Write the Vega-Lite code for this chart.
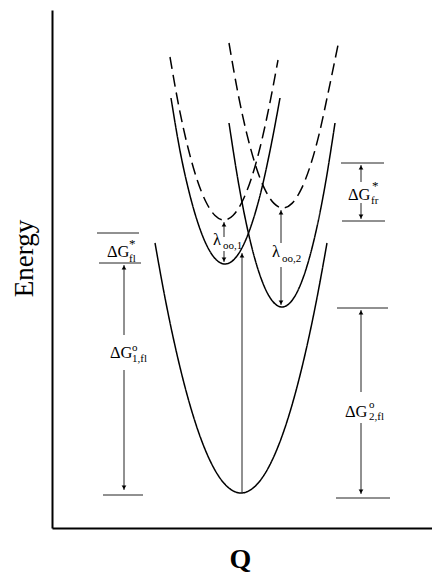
{
  "$schema": "https://vega.github.io/schema/vega-lite/v6.json",
  "width": 380,
  "height": 518,
  "autosize": {"type": "none"},
  "padding": {"left": 52, "top": 10, "right": 0, "bottom": 47},
  "background": "white",
  "config": {"view": {"stroke": null}},
  "datasets": {
    "curves": [
      {"curve": "ground", "style": "solid", "x": 103, "y": 285},
      {"curve": "ground", "style": "solid", "x": 114, "y": 225.1},
      {"curve": "ground", "style": "solid", "x": 129, "y": 156.7},
      {"curve": "ground", "style": "solid", "x": 144, "y": 103.4},
      {"curve": "ground", "style": "solid", "x": 159, "y": 65.4},
      {"curve": "ground", "style": "solid", "x": 174, "y": 42.6},
      {"curve": "ground", "style": "solid", "x": 189, "y": 35},
      {"curve": "ground", "style": "solid", "x": 204, "y": 42.6},
      {"curve": "ground", "style": "solid", "x": 219, "y": 65.4},
      {"curve": "ground", "style": "solid", "x": 234, "y": 103.4},
      {"curve": "ground", "style": "solid", "x": 249, "y": 156.7},
      {"curve": "ground", "style": "solid", "x": 264, "y": 225.1},
      {"curve": "ground", "style": "solid", "x": 275, "y": 285},
      {"curve": "s1", "style": "solid", "x": 119, "y": 430},
      {"curve": "s1", "style": "solid", "x": 128, "y": 377.2},
      {"curve": "s1", "style": "solid", "x": 137, "y": 336.4},
      {"curve": "s1", "style": "solid", "x": 146, "y": 304.8},
      {"curve": "s1", "style": "solid", "x": 155, "y": 282.1},
      {"curve": "s1", "style": "solid", "x": 164, "y": 268.5},
      {"curve": "s1", "style": "solid", "x": 173, "y": 264},
      {"curve": "s1", "style": "solid", "x": 182, "y": 268.5},
      {"curve": "s1", "style": "solid", "x": 191, "y": 282.1},
      {"curve": "s1", "style": "solid", "x": 200, "y": 304.8},
      {"curve": "s1", "style": "solid", "x": 209, "y": 336.4},
      {"curve": "s1", "style": "solid", "x": 218, "y": 377.2},
      {"curve": "s1", "style": "solid", "x": 228, "y": 430},
      {"curve": "s2", "style": "solid", "x": 177, "y": 405},
      {"curve": "s2", "style": "solid", "x": 187, "y": 342.1},
      {"curve": "s2", "style": "solid", "x": 197, "y": 292.3},
      {"curve": "s2", "style": "solid", "x": 207, "y": 255.6},
      {"curve": "s2", "style": "solid", "x": 218, "y": 230.4},
      {"curve": "s2", "style": "solid", "x": 230, "y": 221},
      {"curve": "s2", "style": "solid", "x": 242, "y": 230.4},
      {"curve": "s2", "style": "solid", "x": 253, "y": 255.6},
      {"curve": "s2", "style": "solid", "x": 263, "y": 292.3},
      {"curve": "s2", "style": "solid", "x": 273, "y": 342.1},
      {"curve": "s2", "style": "solid", "x": 283, "y": 405},
      {"curve": "d1", "style": "dashed", "x": 118, "y": 471},
      {"curve": "d1", "style": "dashed", "x": 127, "y": 420.8},
      {"curve": "d1", "style": "dashed", "x": 136, "y": 380.2},
      {"curve": "d1", "style": "dashed", "x": 145, "y": 348.6},
      {"curve": "d1", "style": "dashed", "x": 154, "y": 326},
      {"curve": "d1", "style": "dashed", "x": 163, "y": 312.5},
      {"curve": "d1", "style": "dashed", "x": 172, "y": 308},
      {"curve": "d1", "style": "dashed", "x": 181, "y": 312.5},
      {"curve": "d1", "style": "dashed", "x": 190, "y": 326},
      {"curve": "d1", "style": "dashed", "x": 199, "y": 348.6},
      {"curve": "d1", "style": "dashed", "x": 208, "y": 380.2},
      {"curve": "d1", "style": "dashed", "x": 217, "y": 420.8},
      {"curve": "d1", "style": "dashed", "x": 226, "y": 468},
      {"curve": "d2", "style": "dashed", "x": 177, "y": 485},
      {"curve": "d2", "style": "dashed", "x": 186, "y": 434.6},
      {"curve": "d2", "style": "dashed", "x": 195, "y": 393.4},
      {"curve": "d2", "style": "dashed", "x": 204, "y": 361.3},
      {"curve": "d2", "style": "dashed", "x": 213, "y": 338.3},
      {"curve": "d2", "style": "dashed", "x": 222, "y": 324.6},
      {"curve": "d2", "style": "dashed", "x": 231, "y": 320},
      {"curve": "d2", "style": "dashed", "x": 240, "y": 324.6},
      {"curve": "d2", "style": "dashed", "x": 249, "y": 338.3},
      {"curve": "d2", "style": "dashed", "x": 258, "y": 361.3},
      {"curve": "d2", "style": "dashed", "x": 267, "y": 393.4},
      {"curve": "d2", "style": "dashed", "x": 276, "y": 434.6},
      {"curve": "d2", "style": "dashed", "x": 286, "y": 483}
    ],
    "segs": [
      {"x": 72, "y": 193, "x2": 72, "y2": 263},
      {"x": 72, "y": 38, "x2": 72, "y2": 158},
      {"x": 190, "y": 35, "x2": 190, "y2": 275},
      {"x": 172, "y": 291, "x2": 172, "y2": 306},
      {"x": 172, "y": 266, "x2": 172, "y2": 277},
      {"x": 229, "y": 285, "x2": 229, "y2": 318},
      {"x": 229, "y": 223, "x2": 229, "y2": 261},
      {"x": 309, "y": 346, "x2": 309, "y2": 363},
      {"x": 309, "y": 309, "x2": 309, "y2": 325},
      {"x": 309, "y": 136, "x2": 309, "y2": 218},
      {"x": 309, "y": 34, "x2": 309, "y2": 105},
      {"x": 45, "y": 295, "x2": 87, "y2": 295},
      {"x": 47, "y": 265, "x2": 89, "y2": 265},
      {"x": 51, "y": 33, "x2": 91, "y2": 33},
      {"x": 289, "y": 365, "x2": 332, "y2": 365},
      {"x": 290, "y": 307, "x2": 333, "y2": 307},
      {"x": 285, "y": 220, "x2": 336, "y2": 220},
      {"x": 284, "y": 30, "x2": 338, "y2": 30}
    ],
    "heads": [
      {"x": 72, "y": 260.5, "dir": "up"},
      {"x": 72, "y": 40.5, "dir": "down"},
      {"x": 190, "y": 272.5, "dir": "up"},
      {"x": 172, "y": 303.5, "dir": "up"},
      {"x": 172, "y": 268.5, "dir": "down"},
      {"x": 229, "y": 315.5, "dir": "up"},
      {"x": 229, "y": 225.5, "dir": "down"},
      {"x": 309, "y": 360.5, "dir": "up"},
      {"x": 309, "y": 311.5, "dir": "down"},
      {"x": 309, "y": 215.5, "dir": "up"},
      {"x": 309, "y": 36.5, "dir": "down"}
    ],
    "mainLabels": [
      {"x": 55, "y": 271, "t": "ΔG"},
      {"x": 58, "y": 170, "t": "ΔG"},
      {"x": 296, "y": 328, "t": "ΔG"},
      {"x": 293, "y": 111, "t": "ΔG"},
      {"x": 161, "y": 283, "t": "λ"},
      {"x": 220, "y": 271, "t": "λ"}
    ],
    "scriptLabels": [
      {"x": 77, "y": 266, "t": "fl"},
      {"x": 80, "y": 177, "t": "o"},
      {"x": 80, "y": 166, "t": "1,fl"},
      {"x": 319, "y": 324, "t": "fr"},
      {"x": 317, "y": 120, "t": "o"},
      {"x": 317, "y": 108, "t": "2,fl"},
      {"x": 171, "y": 279, "t": "oo,1"},
      {"x": 230, "y": 266, "t": "oo,2"}
    ],
    "stars": [
      {"x": 77, "y": 280, "t": "*"},
      {"x": 320, "y": 338, "t": "*"}
    ]
  },
  "encoding": {
    "x": {
      "field": "x", "type": "quantitative",
      "scale": {"domain": [0, 380], "nice": false, "zero": false},
      "axis": {
        "domain": true, "domainColor": "black", "domainWidth": 2,
        "ticks": false, "labels": false, "grid": false,
        "title": "Q", "titleFont": "Liberation Serif", "titleFontSize": 28,
        "titleFontWeight": "bold", "titleColor": "black",
        "titleX": 188, "titleY": 39, "titleAlign": "center", "titleBaseline": "alphabetic"
      }
    },
    "y": {
      "field": "y", "type": "quantitative",
      "scale": {"domain": [0, 518], "nice": false, "zero": false},
      "axis": {
        "domain": true, "domainColor": "black", "domainWidth": 2,
        "ticks": false, "labels": false, "grid": false,
        "title": "Energy", "titleFont": "Liberation Serif", "titleFontSize": 27,
        "titleFontWeight": "normal", "titleColor": "black",
        "titleAngle": -90, "titleX": -20, "titleY": 248,
        "titleAlign": "center", "titleBaseline": "alphabetic"
      }
    }
  },
  "layer": [
    {
      "data": {"name": "curves"},
      "mark": {"type": "line", "interpolate": "monotone", "stroke": "black", "strokeWidth": 1.5},
      "encoding": {
        "detail": {"field": "curve", "type": "nominal"},
        "order": {"field": "x", "type": "quantitative"},
        "strokeDash": {
          "field": "style", "type": "nominal",
          "scale": {"domain": ["solid", "dashed"], "range": [[1, 0], [12, 6]]},
          "legend": null
        }
      }
    },
    {
      "data": {"name": "segs"},
      "mark": {"type": "rule", "stroke": "#222222", "strokeWidth": 1},
      "encoding": {
        "x2": {"field": "x2"},
        "y2": {"field": "y2"}
      }
    },
    {
      "data": {"name": "heads"},
      "mark": {"type": "point", "filled": true, "color": "black", "size": 22, "opacity": 1},
      "encoding": {
        "shape": {
          "field": "dir", "type": "nominal",
          "scale": {"domain": ["up", "down"], "range": ["triangle-up", "triangle-down"]},
          "legend": null
        }
      }
    },
    {
      "data": {"name": "mainLabels"},
      "mark": {"type": "text", "align": "left", "baseline": "alphabetic", "font": "Liberation Serif", "fontSize": 16.5, "fill": "black"},
      "encoding": {"text": {"field": "t"}}
    },
    {
      "data": {"name": "scriptLabels"},
      "mark": {"type": "text", "align": "left", "baseline": "alphabetic", "font": "Liberation Serif", "fontSize": 11, "fill": "black"},
      "encoding": {"text": {"field": "t"}}
    },
    {
      "data": {"name": "stars"},
      "mark": {"type": "text", "align": "left", "baseline": "alphabetic", "font": "Liberation Serif", "fontSize": 13, "fill": "black"},
      "encoding": {"text": {"field": "t"}}
    }
  ]
}
